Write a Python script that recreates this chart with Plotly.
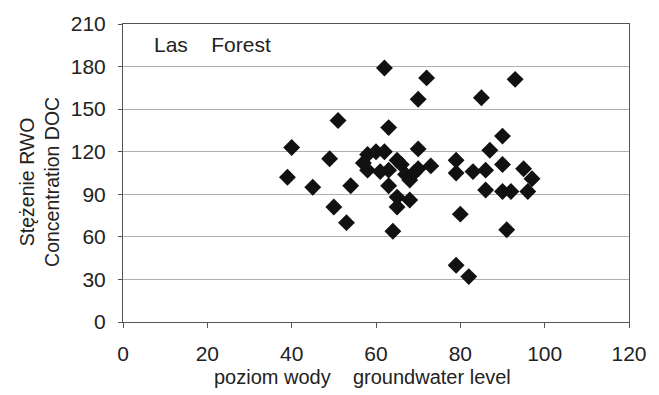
import plotly.graph_objects as go

water_level = [39, 40, 45, 49, 51, 50, 53, 54, 62, 72, 70, 63, 70, 63, 65, 68, 65, 64,
               80, 79, 82, 93, 85, 90, 87, 79, 79, 83, 86, 90, 95, 97, 86, 90, 92, 96, 91,
               58, 60, 62, 57, 58, 61, 63, 65, 66, 67, 69, 68, 70, 73]
doc_conc = [102, 123, 95, 115, 142, 81, 70, 96, 179, 172, 157, 137, 122, 96, 88, 86, 81, 64,
            76, 40, 32, 171, 158, 131, 121, 114, 105, 106, 107, 111, 108, 101, 93, 92, 92, 92, 65,
            118, 120, 120, 112, 107, 106, 107, 114, 111, 104, 105, 100, 108, 110]

x_ticks = [0, 20, 40, 60, 80, 100, 120]
y_ticks = [0, 30, 60, 90, 120, 150, 180, 210]

font = "Liberation Sans, Arial, sans-serif"
txt = "#222222"

fig = go.Figure()
fig.add_trace(go.Scatter(
    x=water_level, y=doc_conc, mode="markers",
    marker=dict(symbol="diamond", size=13, color="#111111", line=dict(width=0)),
    showlegend=False,
))

fig.update_layout(
    width=659, height=395,
    margin=dict(l=123, r=24, t=22, b=73),
    paper_bgcolor="white", plot_bgcolor="white",
    font=dict(family=font, size=21, color=txt),
    annotations=[
        dict(text="Las    Forest", x=0.058, y=0.975, xref="paper", yref="paper",
             xanchor="left", yanchor="top", showarrow=False,
             font=dict(family=font, size=21, color=txt)),
        dict(text="poziom wody    groundwater level", x=0.4727, y=-0.183,
             xref="paper", yref="paper", xanchor="center", yanchor="middle",
             showarrow=False, font=dict(family=font, size=20, color=txt)),
        dict(text="Stężenie RWO<br>Concentration DOC", x=-0.164, y=0.47,
             xref="paper", yref="paper", xanchor="center", yanchor="middle",
             textangle=-90, showarrow=False,
             font=dict(family=font, size=19.5, color=txt)),
    ],
)
fig.update_xaxes(
    range=[0, 120], tickvals=x_ticks, showgrid=False, zeroline=False,
    showline=True, linecolor="#555555", linewidth=1, mirror=True,
    ticks="outside", ticklen=5, tickcolor="#555555", ticklabelstandoff=8,
)
fig.update_yaxes(
    range=[0, 210], tickvals=y_ticks, showgrid=True, gridcolor="#b0b0b0", gridwidth=1,
    zeroline=False, showline=True, linecolor="#555555", linewidth=1, mirror=True,
    ticks="outside", ticklen=4, tickcolor="#555555", ticklabelstandoff=8,
)

fig.write_html("out.html")
